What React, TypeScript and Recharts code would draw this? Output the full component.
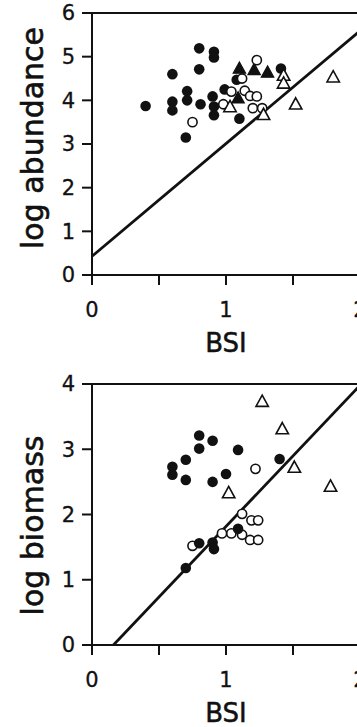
import React from "react";
import {
  ScatterChart,
  Scatter,
  XAxis,
  YAxis,
  ReferenceLine,
  Label,
} from "recharts";

// BSI ticks (labels only on whole numbers)
const bsiTicks = [0, 0.5, 1, 1.5, 2];
const abundanceTicks = [0, 1, 2, 3, 4, 5, 6];
const biomassTicks = [0, 1, 2, 3, 4];

// --- log abundance panel ---
const abFilledCircleX = [0.4, 0.6, 0.6, 0.6, 0.71, 0.71, 0.7, 0.8, 0.8, 0.81, 0.91, 0.91, 0.9, 0.91, 0.91, 0.99, 1.1, 1.08, 1.41];
const abFilledCircleY = [3.87, 4.6, 3.97, 3.77, 4.21, 4.0, 3.15, 5.19, 4.71, 3.91, 5.11, 4.98, 4.09, 3.86, 3.66, 4.25, 3.58, 4.47, 4.73];
const abFilledTriX = [1.1, 1.21, 1.31, 1.09];
const abFilledTriY = [4.73, 4.7, 4.64, 4.05];
const abOpenCircleX = [1.23, 1.12, 1.04, 0.98, 1.14, 1.18, 1.23, 1.2, 1.27, 0.75];
const abOpenCircleY = [4.92, 4.5, 4.2, 3.91, 4.22, 4.1, 4.09, 3.82, 3.82, 3.5];
const abOpenTriX = [1.03, 1.28, 1.43, 1.43, 1.52, 1.8];
const abOpenTriY = [3.85, 3.67, 4.57, 4.39, 3.91, 4.53];
const abFitX = [0, 2];
const abFitY = [0.43, 5.59];

// --- log biomass panel ---
const bmFilledCircleX = [0.6, 0.6, 0.7, 0.7, 0.8, 0.8, 0.9, 0.9, 1.0, 1.09, 1.4, 1.09, 0.8, 0.9, 0.91, 0.7];
const bmFilledCircleY = [2.73, 2.61, 2.84, 2.53, 3.21, 3.01, 3.13, 2.5, 2.62, 2.99, 2.85, 1.78, 1.56, 1.57, 1.47, 1.18];
const bmOpenCircleX = [1.22, 1.12, 1.19, 1.24, 0.97, 1.04, 1.12, 1.18, 1.24, 0.75];
const bmOpenCircleY = [2.7, 2.01, 1.91, 1.91, 1.71, 1.71, 1.69, 1.61, 1.61, 1.52];
const bmOpenTriX = [1.27, 1.42, 1.51, 1.02, 1.78];
const bmOpenTriY = [3.73, 3.31, 2.72, 2.33, 2.43];
const bmFitX = [0.16, 2];
const bmFitY = [0, 3.98];

const INK = "#111";
const FONT = "'DejaVu Sans', Arial, sans-serif";

const zip = (xs: number[], ys: number[]) => xs.map((x, i) => ({ x, y: ys[i] }));

function FilledCircle(p: any) {
  return <circle cx={p.cx} cy={p.cy} r={5.3} fill={INK} />;
}
function OpenCircle(p: any) {
  return <circle cx={p.cx} cy={p.cy} r={4.6} fill="#fff" stroke={INK} strokeWidth={1.6} />;
}
function triPoints(cx: number, cy: number) {
  return `${cx},${cy - 6.5} ${cx + 6.2},${cy + 4.8} ${cx - 6.2},${cy + 4.8}`;
}
function FilledTri(p: any) {
  return <polygon points={triPoints(p.cx, p.cy)} fill={INK} stroke={INK} strokeWidth={1.2} />;
}
function OpenTri(p: any) {
  return (
    <polygon
      points={triPoints(p.cx, p.cy)}
      fill="#fff"
      stroke={INK}
      strokeWidth={1.6}
      strokeLinejoin="miter"
    />
  );
}

const tickStyle = { fontSize: 21, fill: INK, fontFamily: FONT, stroke: INK, strokeWidth: 0.3 };
const axisLine = { stroke: INK, strokeWidth: 2 };

function Panel({
  height,
  top,
  yMax,
  yTicks,
  yLabel,
  yLabelShift,
  fit,
  children,
}: {
  height: number;
  top: number;
  yMax: number;
  yTicks: number[];
  yLabel: string;
  yLabelShift: number;
  fit: { x: number; y: number }[];
  children: React.ReactNode;
}) {
  return (
    <ScatterChart width={380} height={height} margin={{ top, right: 20, bottom: 0, left: 0 }}>
      <XAxis
        type="number"
        dataKey="x"
        domain={[0, 2]}
        ticks={bsiTicks}
        tickFormatter={(v: number) => (Number.isInteger(v) ? String(v) : "")}
        tickSize={10}
        tickMargin={17}
        tick={tickStyle}
        axisLine={axisLine}
        tickLine={axisLine}
        height={height - top - (yMax === 6 ? 262 : 261)}
        allowDataOverflow
      >
        <Label
          content={(props: any) => {
            const vb = props.viewBox;
            return (
              <text
                x={vb.x + vb.width / 2}
                y={vb.y + 77}
                textAnchor="middle"
                fontSize={26}
                fontFamily={FONT}
                fill={INK}
                stroke={INK}
                strokeWidth={0.5}
              >
                BSI
              </text>
            );
          }}
        />
      </XAxis>
      <YAxis
        type="number"
        dataKey="y"
        domain={[0, yMax]}
        ticks={yTicks}
        tickSize={10}
        tickMargin={7}
        tick={tickStyle}
        axisLine={axisLine}
        tickLine={axisLine}
        width={92}
        allowDataOverflow
      >
        <Label
          content={(props: any) => {
            const vb = props.viewBox;
            const cy = vb.y + vb.height / 2 + yLabelShift;
            return (
              <text
                x={43}
                y={cy}
                transform={`rotate(-90, 43, ${cy})`}
                textAnchor="middle"
                fontSize={30}
                fontFamily={FONT}
                fill={INK}
                stroke={INK}
                strokeWidth={0.6}
              >
                {yLabel}
              </text>
            );
          }}
        />
      </YAxis>
      <ReferenceLine y={yMax} stroke={INK} strokeWidth={2} ifOverflow="visible" />
      <ReferenceLine segment={fit} stroke={INK} strokeWidth={2.8} ifOverflow="hidden" />
      {children}
    </ScatterChart>
  );
}

export default function App() {
  return (
    <div
      style={{
        position: "fixed",
        top: 0,
        left: 0,
        width: 357,
        height: 727,
        overflow: "hidden",
        background: "#fff",
      }}
    >
      <div style={{ position: "absolute", top: 0, left: 0 }}>
        <Panel
          height={363}
          top={13}
          yMax={6}
          yTicks={abundanceTicks}
          yLabel="log abundance"
          yLabelShift={-6}
          fit={zip(abFitX, abFitY)}
        >
          <Scatter data={zip(abFilledCircleX, abFilledCircleY)} shape={FilledCircle} isAnimationActive={false} />
          <Scatter data={zip(abFilledTriX, abFilledTriY)} shape={FilledTri} isAnimationActive={false} />
          <Scatter data={zip(abOpenCircleX, abOpenCircleY)} shape={OpenCircle} isAnimationActive={false} />
          <Scatter data={zip(abOpenTriX, abOpenTriY)} shape={OpenTri} isAnimationActive={false} />
        </Panel>
      </div>
      <div style={{ position: "absolute", top: 363, left: 0 }}>
        <Panel
          height={364}
          top={21}
          yMax={4}
          yTicks={biomassTicks}
          yLabel="log biomass"
          yLabelShift={11}
          fit={zip(bmFitX, bmFitY)}
        >
          <Scatter data={zip(bmOpenCircleX, bmOpenCircleY)} shape={OpenCircle} isAnimationActive={false} />
          <Scatter data={zip(bmFilledCircleX, bmFilledCircleY)} shape={FilledCircle} isAnimationActive={false} />
          <Scatter data={zip(bmOpenTriX, bmOpenTriY)} shape={OpenTri} isAnimationActive={false} />
        </Panel>
      </div>
    </div>
  );
}
